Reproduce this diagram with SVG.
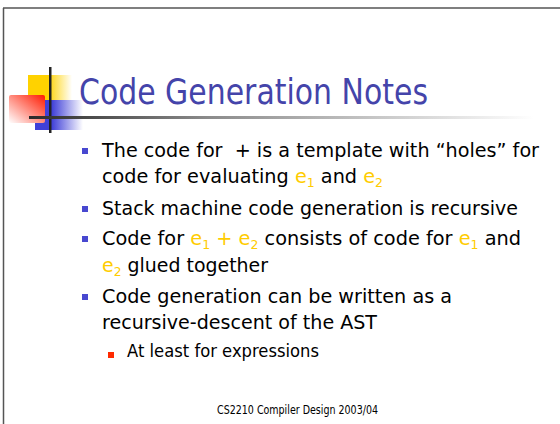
<svg xmlns="http://www.w3.org/2000/svg" width="560" height="424" viewBox="0 0 560 424">
  <defs>
    <linearGradient id="ruleFade" x1="0" y1="0" x2="1" y2="0">
      <stop offset="0" stop-color="#2a2a2a"/>
      <stop offset="0.35" stop-color="#8a8a8a"/>
      <stop offset="1" stop-color="#ffffff"/>
    </linearGradient>
    <linearGradient id="yellowFade" x1="0" y1="0" x2="1" y2="0">
      <stop offset="0" stop-color="#ffd200"/>
      <stop offset="0.45" stop-color="#ffd200"/>
      <stop offset="1" stop-color="#ffffff"/>
    </linearGradient>
    <linearGradient id="blueFade" x1="0" y1="0" x2="1" y2="0">
      <stop offset="0" stop-color="#4040d8"/>
      <stop offset="0.35" stop-color="#4040d8"/>
      <stop offset="1" stop-color="#ffffff"/>
    </linearGradient>
    <linearGradient id="redFade" x1="1" y1="0" x2="0" y2="1">
      <stop offset="0" stop-color="#ff1a00"/>
      <stop offset="1" stop-color="#ffffff"/>
    </linearGradient>
  </defs>
  <style>
    .body { font-family: "DejaVu Sans", Tahoma, Verdana, sans-serif; fill: #000000; }
    .main { font-size: 20px; }
    .sub { font-size: 17px; }
    .hl { fill: #ffcc00; }
    .idx { font-size: 13px; }
    .title { font-family: "DejaVu Sans", Tahoma, Verdana, sans-serif; font-size: 35px; fill: #4444aa; }
    .foot { font-family: "DejaVu Sans", Tahoma, Verdana, sans-serif; font-size: 12px; fill: #000000; }
    .b1 { fill: #4848d0; }
    .b2 { fill: #ff2a00; }
  </style>

  <rect width="560" height="424" fill="#ffffff"/>

  <!-- slide frame -->
  <g id="frame" fill="none" stroke="#555555" stroke-width="1.5">
    <line x1="3" y1="8" x2="560" y2="8"/>
    <line x1="3.5" y1="8" x2="3.5" y2="424"/>
  </g>

  <!-- title ornament -->
  <g id="ornament">
    <rect x="28" y="75" width="44" height="25" fill="url(#yellowFade)"/>
    <rect x="35" y="100" width="48" height="30" fill="url(#blueFade)"/>
    <rect x="9" y="95" width="36" height="28" rx="2" fill="url(#redFade)"/>
    <rect x="49" y="67" width="2.5" height="66" fill="#222222"/>
    <rect x="29" y="116" width="505" height="3" fill="url(#ruleFade)"/>
  </g>

  <g id="title">
    <text class="title" x="79" y="104" textLength="349" lengthAdjust="spacingAndGlyphs">Code Generation Notes</text>
  </g>

  <g id="bullets">
    <rect class="b1" x="82" y="148" width="6" height="6"/>
    <rect class="b1" x="82" y="206" width="6" height="6"/>
    <rect class="b1" x="82" y="236" width="6" height="6"/>
    <rect class="b1" x="82" y="294" width="6" height="6"/>
    <rect class="b2" x="108" y="352" width="6" height="6"/>
  </g>

  <g id="text" class="body">
    <text class="main" x="102" y="157" textLength="437" lengthAdjust="spacingAndGlyphs" xml:space="preserve">The code for  + is a template with “holes” for</text>
    <text class="main" x="102" y="183" textLength="281" lengthAdjust="spacingAndGlyphs">code for evaluating <tspan class="hl">e</tspan><tspan class="hl idx" dy="4">1</tspan><tspan dy="-4"> and </tspan><tspan class="hl">e</tspan><tspan class="hl idx" dy="4">2</tspan></text>
    <text class="main" x="102" y="215" textLength="416" lengthAdjust="spacingAndGlyphs">Stack machine code generation is recursive</text>
    <text class="main" x="102" y="245" textLength="419" lengthAdjust="spacingAndGlyphs">Code for <tspan class="hl">e</tspan><tspan class="hl idx" dy="4">1</tspan><tspan class="hl" dy="-4"> + e</tspan><tspan class="hl idx" dy="4">2</tspan><tspan dy="-4"> consists of code for </tspan><tspan class="hl">e</tspan><tspan class="hl idx" dy="4">1</tspan><tspan dy="-4"> and</tspan></text>
    <text class="main" x="102" y="272" textLength="166" lengthAdjust="spacingAndGlyphs"><tspan class="hl">e</tspan><tspan class="hl idx" dy="4">2</tspan><tspan dy="-4"> glued together</tspan></text>
    <text class="main" x="102" y="303" textLength="350" lengthAdjust="spacingAndGlyphs">Code generation can be written as a</text>
    <text class="main" x="102" y="329" textLength="275" lengthAdjust="spacingAndGlyphs">recursive-descent of the AST</text>
    <text class="sub" x="127" y="357" textLength="192" lengthAdjust="spacingAndGlyphs">At least for expressions</text>
  </g>

  <g id="footer">
    <text class="foot" x="217" y="414" textLength="161" lengthAdjust="spacingAndGlyphs">CS2210 Compiler Design 2003/04</text>
  </g>
</svg>
